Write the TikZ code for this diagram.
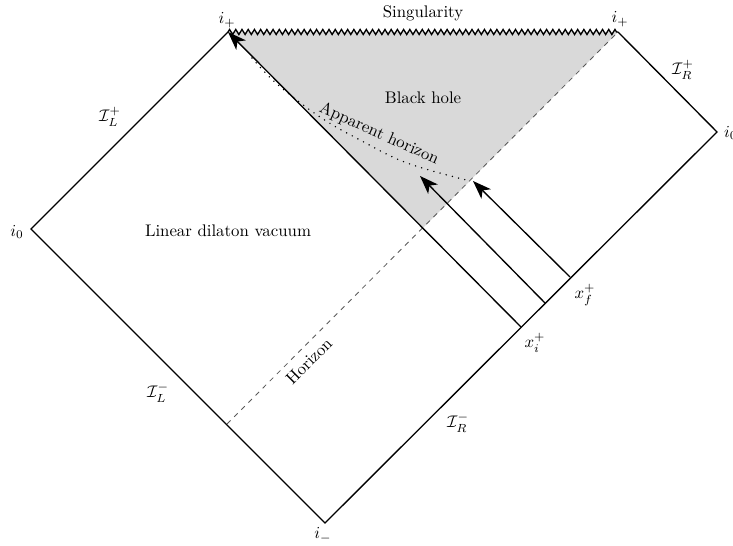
\documentclass[tikz,border=0pt]{standalone}
\usetikzlibrary{arrows.meta,decorations.pathmorphing}
\begin{document}
\begin{tikzpicture}[x=0.5952pt,y=-0.5952pt,
  edge/.style={line width=0.8pt},
  ray/.style={line width=0.8pt,-{Stealth[length=11pt,width=8pt,inset=3pt]}},
  lbl/.style={inner sep=1pt},
]
\useasboundingbox (0,0) rectangle (733,546);
\coordinate (L) at (31,229);
\coordinate (TL) at (228,32);
\coordinate (TR) at (618,32);
\coordinate (R) at (717,132);
\coordinate (B) at (325,523);
\coordinate (Xi) at (521,327);
\coordinate (Xf1) at (545,303);
\coordinate (Xf2) at (570,277);
\coordinate (A1) at (420,176);
\coordinate (A2) at (473,181);
\coordinate (H0) at (227,424);
\coordinate (C) at (423,228);
% black hole region
\fill[black!15] (TL) -- (TR) -- (C) -- cycle;
% horizon
\draw[black!65, dashed, line width=0.5pt] (H0) -- (TR);
% apparent horizon
\draw[line width=0.95pt, line cap=round, dash pattern=on 0pt off 3.8pt] plot[smooth, tension=0.6] coordinates {(252,58) (277,84) (320,117) (360,140) (407,163) (470,181)};
% outline
\draw[edge] (TL) -- (L) -- (B) -- (R) -- (TR);
\draw[edge, decorate, decoration={zigzag, segment length=3.7pt, amplitude=1.5pt}] (TL) -- (TR);
% shell and rays
\draw[ray] (Xi) -- (TL);
\draw[ray] (Xf1) -- (A1);
\draw[ray] (Xf2) -- (A2);
% labels
\node[lbl] (ipl) at (227,20) {$i_+$};
\node[lbl] (ipr) at (620,19) {$i_+$};
\node[lbl] (sing) at (423,13) {Singularity};
\node[lbl] (scrRp) at (683,70) {$\mathcal{I}_R^+$};
\node[lbl, anchor=west] (i0r) at (722,133) {$i_0$};
\node[lbl] (bh) at (423,98) {Black hole};
\node[lbl, rotate=-24] (ah) at (379,134) {Apparent horizon};
\node[lbl] (ldv) at (228,231) {Linear dilaton vacuum};
\node[lbl] (i0l) at (17,232) {$i_0$};
\node[lbl] (scrLp) at (110,117) {$\mathcal{I}_L^+$};
\node[lbl] (scrLm) at (158,393) {$\mathcal{I}_L^-$};
\node[lbl] (scrRm) at (458,423) {$\mathcal{I}_R^-$};
\node[lbl] (im) at (323,535) {$i_-$};
\node[lbl] (xi) at (535,343) {$x_i^+$};
\node[lbl] (xf) at (585,295) {$x_f^+$};
\node[lbl, rotate=45] (hor) at (309,361) {Horizon};
\end{tikzpicture}
\end{document}
